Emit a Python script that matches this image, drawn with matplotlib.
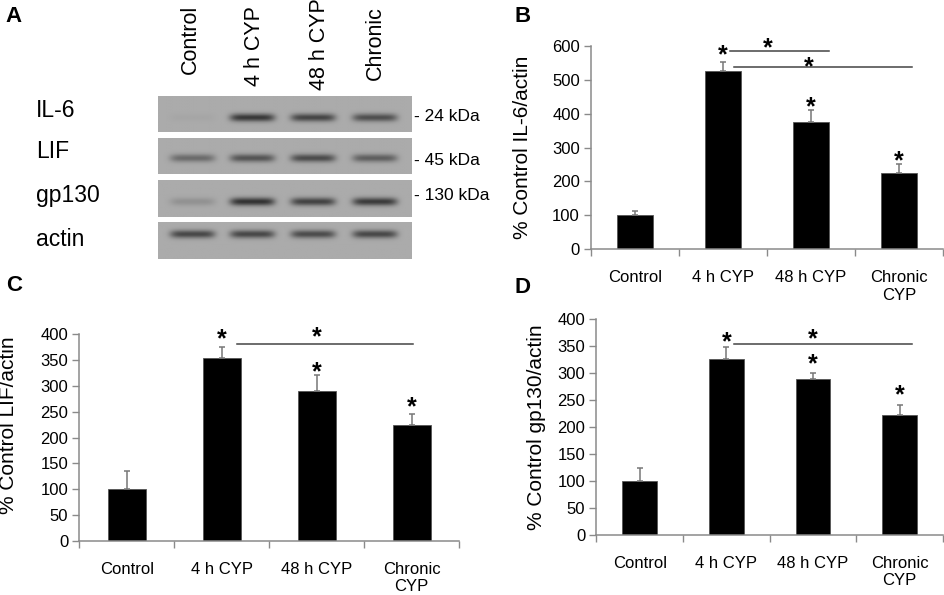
import numpy as np
import matplotlib
matplotlib.use("Agg")
import matplotlib.pyplot as plt

plt.rcParams['font.family'] = ['Liberation Sans', 'DejaVu Sans']

# ---- data ----
groups = ['Control', '4 h CYP', '48 h CYP', 'Chronic\nCYP']

il6_mean = [100, 525, 374, 224]
il6_err = [13, 28, 36, 26]
il6_stars = [592, 440, 281]          # star centres above 4h, 48h, chronic

lif_mean = [100, 355, 291, 224]
lif_err = [35, 21, 31, 21]
lif_stars = [404, 340, 271]

gp_mean = [100, 326, 290, 223]
gp_err = [25, 22, 11, 19]
gp_stars = [371, 330, 272]

# significance brackets: (x start, x end, line y, star x, star y)
il6_sig = [(1.58, 2.70, 585, 2.01, 612), (1.63, 3.65, 536, 2.48, 558)]
lif_sig = [(1.66, 3.52, 382, 2.50, 407)]
gp_sig = [(1.59, 3.64, 355, 2.50, 376)]

# western blot
blot_rows = ['IL-6', 'LIF', 'gp130', 'actin']
blot_kda = ['- 24 kDa', '- 45 kDa', '- 130 kDa', '']
lane_names = ['Control', '4 h CYP', '48 h CYP', 'Chronic']
band_strength = [
    [0.04, 0.90, 0.80, 0.72],
    [0.50, 0.68, 0.75, 0.60],
    [0.20, 0.95, 0.82, 0.88],
    [0.78, 0.78, 0.75, 0.78],
]

W, H = 945, 595
fig = plt.figure(figsize=(9.45, 5.95), dpi=100)
AXC = '#8a8a8a'


def px_axes(x0, x1, ytop, ybot):
    return fig.add_axes([x0 / W, 1 - ybot / H, (x1 - x0) / W, (ybot - ytop) / H])


def star(ax, x, y):
    ax.annotate('*', xy=(x, y), xytext=(0, -10), textcoords='offset points',
                ha='center', va='baseline', fontsize=18, fontweight='bold',
                annotation_clip=False)


def bar_panel(ax, means, errs, stars, sigs, ymax, ystep, ylabel, lab_y=0.5, lab_x=-0.19):
    x = np.arange(len(means)) + 0.5
    ax.bar(x, means, width=0.4, color='black', edgecolor='#555555', linewidth=0.6,
           yerr=[np.zeros(len(errs)), errs], ecolor='#777777', capsize=2,
           error_kw=dict(elinewidth=1.1, capthick=1.1), zorder=2)
    ax.set_xlim(0, len(means))
    ax.set_ylim(0, ymax)
    ax.set_yticks(np.arange(0, ymax + 1, ystep))
    ax.set_xticks(np.arange(len(means) + 1))
    ax.set_xticklabels([])
    ax.set_xticks(x, minor=True)
    ax.set_xticklabels(groups, minor=True, fontsize=12)
    ax.tick_params(axis='x', which='major', length=5, direction='out', color=AXC, width=1)
    ax.tick_params(axis='x', which='minor', length=0, pad=15)
    ax.tick_params(axis='y', length=5, color=AXC, width=1, labelsize=12, pad=3)
    for s in ['top', 'right']:
        ax.spines[s].set_visible(False)
    for s in ['left', 'bottom']:
        ax.spines[s].set_color(AXC)
        ax.spines[s].set_linewidth(1.1)
    ax.set_ylabel(ylabel, fontsize=15)
    ax.yaxis.set_label_coords(lab_x, lab_y)
    for xi, sy in zip(x[1:], stars):
        star(ax, xi, sy)
    for x0, x1, ly, sx, sy in sigs:
        ax.plot([x0, x1], [ly, ly], color='#444444', lw=1.1, clip_on=False)
        star(ax, sx, sy)


# ---- panel B ----
axB = px_axes(591, 943, 45.7, 249.3)
bar_panel(axB, il6_mean, il6_err, il6_stars, il6_sig, 600, 100,
          '% Control IL-6/actin', lab_x=-59 / 352)

# ---- panel C ----
axC = px_axes(79.3, 459, 334.3, 540.7)
bar_panel(axC, lif_mean, lif_err, lif_stars, lif_sig, 400, 50,
          '% Control LIF/actin', lab_y=0.56, lab_x=-61 / 380)

# ---- panel D ----
axD = px_axes(596.3, 943, 319.3, 535)
bar_panel(axD, gp_mean, gp_err, gp_stars, gp_sig, 400, 50,
          '% Control gp130/actin', lab_x=-50 / 347)

# ---- panel A: blot ----
axA = px_axes(0, 472, 0, 297)
axA.set_xlim(0, 472)
axA.set_ylim(297, 0)
axA.axis('off')

strip_x = (157.7, 411.7)
strip_y = [(96.5, 132.3), (138.5, 174.3), (180.7, 217.0), (222.7, 259.0)]
band_y = [118.0, 158.5, 202.0, 234.5]
lane_cx = [192, 252, 313, 375]
lane_hw = 22.5
row_base = [116.7, 158.3, 201.7, 245.7]
kda_base = [120.7, 165, 200]

for r, (y0, y1) in enumerate(strip_y):
    ny, nx = 60, 260
    yy = np.linspace(y0, y1, ny)[:, None]
    xx = np.linspace(strip_x[0], strip_x[1], nx)[None, :]
    img = np.full((ny, nx), 0.67)
    for cx, s in zip(lane_cx, band_strength[r]):
        hprof = np.exp(-((xx - cx) / lane_hw) ** 6)
        vprof = np.exp(-((yy - band_y[r]) / 4.0) ** 2)
        img = img - 0.5 * s * hprof * vprof
    axA.imshow(img, cmap='gray', vmin=0, vmax=1, aspect='auto',
               extent=(strip_x[0], strip_x[1], y1, y0), interpolation='bilinear')
    axA.text(36, row_base[r], blot_rows[r], fontsize=16.5, va='baseline', ha='left')
    if blot_kda[r]:
        axA.text(414, kda_base[r], blot_kda[r], fontsize=12.5, va='baseline', ha='left')

lane_bottom = [74, 86, 90, 80]
for cx, name, yb in zip([190, 255, 320, 375], lane_names, lane_bottom):
    axA.text(cx, yb, name, rotation=90, ha='center', va='bottom', fontsize=15.5)

for lab, (px, py) in zip('ABCD', [(14, 17), (523, 17), (14, 285), (523, 287)]):
    fig.text(px / W, 1 - py / H, lab, fontsize=16, fontweight='bold',
             ha='center', va='center')

fig.savefig('out.png', dpi=100)
